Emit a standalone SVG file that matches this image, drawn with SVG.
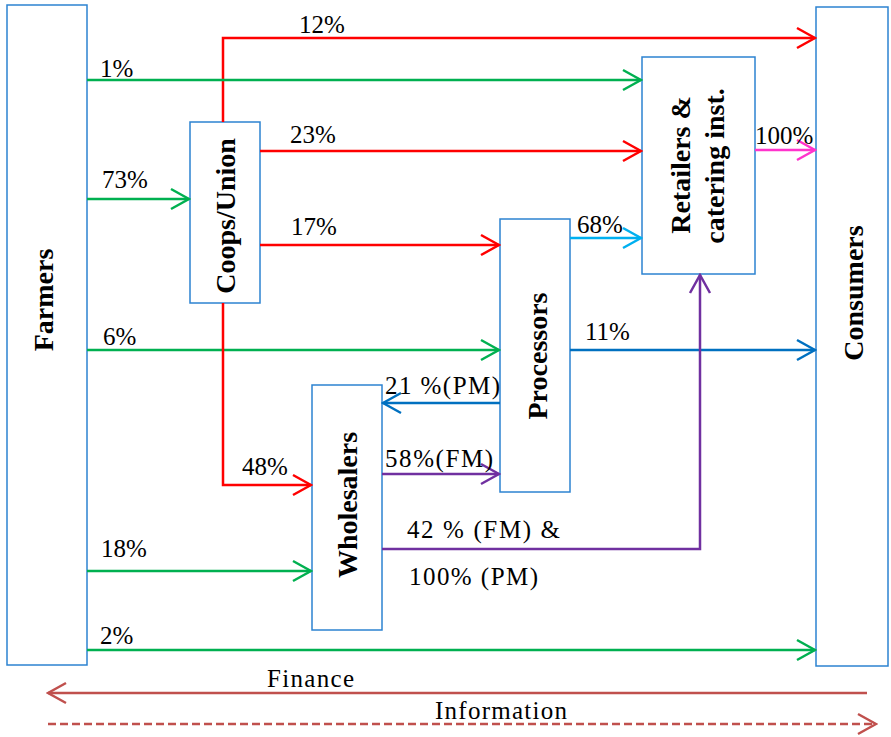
<svg xmlns="http://www.w3.org/2000/svg" width="891" height="737" viewBox="0 0 891 737">
<style>
.box{fill:#fff;stroke:#2C83D1;stroke-width:1.5}
.nl{font-family:"Liberation Serif","Times New Roman",serif;font-weight:bold;font-size:28px;text-anchor:middle;fill:#000}
.lb{font-family:"Liberation Serif","Times New Roman",serif;font-size:25px;fill:#000}
.c{fill:none;stroke-width:2.5}
.red{stroke:#FF0000}.grn{stroke:#00B050}.lbl{stroke:#00B0F0}.blu{stroke:#0070C0}.pur{stroke:#7030A0}.mag{stroke:#FF33CC}.fin{stroke:#C0504D}
</style>
<defs>
<marker id="mRed" markerUnits="userSpaceOnUse" viewBox="-21 -12 23 24" markerWidth="23" markerHeight="24" refX="0" refY="0" orient="auto"><path d="M-18,-10 L0,0 L-18,10" fill="none" stroke="#FF0000" stroke-width="2.5"/></marker>
<marker id="mGrn" markerUnits="userSpaceOnUse" viewBox="-21 -12 23 24" markerWidth="23" markerHeight="24" refX="0" refY="0" orient="auto"><path d="M-18,-10 L0,0 L-18,10" fill="none" stroke="#00B050" stroke-width="2.5"/></marker>
<marker id="mLbl" markerUnits="userSpaceOnUse" viewBox="-21 -12 23 24" markerWidth="23" markerHeight="24" refX="0" refY="0" orient="auto"><path d="M-18,-10 L0,0 L-18,10" fill="none" stroke="#00B0F0" stroke-width="2.5"/></marker>
<marker id="mBlu" markerUnits="userSpaceOnUse" viewBox="-21 -12 23 24" markerWidth="23" markerHeight="24" refX="0" refY="0" orient="auto"><path d="M-18,-10 L0,0 L-18,10" fill="none" stroke="#0070C0" stroke-width="2.5"/></marker>
<marker id="mPur" markerUnits="userSpaceOnUse" viewBox="-21 -12 23 24" markerWidth="23" markerHeight="24" refX="0" refY="0" orient="auto"><path d="M-18,-10 L0,0 L-18,10" fill="none" stroke="#7030A0" stroke-width="2.5"/></marker>
<marker id="mMag" markerUnits="userSpaceOnUse" viewBox="-21 -12 23 24" markerWidth="23" markerHeight="24" refX="0" refY="0" orient="auto"><path d="M-18,-10 L0,0 L-18,10" fill="none" stroke="#FF33CC" stroke-width="2.5"/></marker>
<marker id="mFin" markerUnits="userSpaceOnUse" viewBox="-21 -12 23 24" markerWidth="23" markerHeight="24" refX="0" refY="0" orient="auto"><path d="M-18,-10 L0,0 L-18,10" fill="none" stroke="#C0504D" stroke-width="2.5"/></marker>
</defs>
<rect width="891" height="737" fill="#fff"/>
<g id="farmers"><rect class="box" x="7" y="5" width="80" height="660"/><text class="nl" x="53" y="300" transform="rotate(-90 53 300)">Farmers</text></g>
<g id="consumers"><rect class="box" x="816" y="7" width="72" height="659"/><text class="nl" x="863" y="293" transform="rotate(-90 863 293)">Consumers</text></g>
<g id="coops"><rect class="box" x="190" y="122" width="70" height="181"/><text class="nl" x="235" y="216" transform="rotate(-90 235 216)">Coops/Union</text></g>
<g id="retailers"><rect class="box" x="642" y="57" width="113" height="217"/><text class="nl" x="690" y="165" transform="rotate(-90 690 165)">Retailers &amp;</text><text class="nl" x="724" y="166" transform="rotate(-90 724 166)">catering inst.</text></g>
<g id="processors"><rect class="box" x="500" y="219" width="70" height="273"/><text class="nl" x="547" y="356" transform="rotate(-90 547 356)">Processors</text></g>
<g id="wholesalers"><rect class="box" x="312" y="385" width="70" height="245"/><text class="nl" x="357" y="505" transform="rotate(-90 357 505)">Wholesalers</text></g>
<g id="connectors">
<path class="c red" d="M223,122 V38 H815" marker-end="url(#mRed)"/>
<path class="c grn" d="M87,80 H641" marker-end="url(#mGrn)"/>
<path class="c red" d="M260,151 H641" marker-end="url(#mRed)"/>
<path class="c grn" d="M87,199 H189" marker-end="url(#mGrn)"/>
<path class="c red" d="M260,245 H499" marker-end="url(#mRed)"/>
<path class="c lbl" d="M570,238 H641" marker-end="url(#mLbl)"/>
<path class="c mag" d="M755,150 H815" marker-end="url(#mMag)"/>
<path class="c grn" d="M87,350 H499" marker-end="url(#mGrn)"/>
<path class="c blu" d="M570,350 H815" marker-end="url(#mBlu)"/>
<path class="c blu" d="M500,403 H383" marker-end="url(#mBlu)"/>
<path class="c red" d="M223,303 V485 H311" marker-end="url(#mRed)"/>
<path class="c pur" d="M382,474 H499" marker-end="url(#mPur)"/>
<path class="c pur" d="M382,549 H700 V275" marker-end="url(#mPur)"/>
<path class="c grn" d="M87,571 H311" marker-end="url(#mGrn)"/>
<path class="c grn" d="M87,650 H815" marker-end="url(#mGrn)"/>
<path class="c fin" d="M867,693 H48" marker-end="url(#mFin)"/>
<path class="c fin" d="M48,724 H876" stroke-dasharray="8 4" marker-end="url(#mFin)"/>
<text class="lb" x="299" y="33">12%</text>
<text class="lb" x="100" y="77">1%</text>
<text class="lb" x="290" y="143">23%</text>
<text class="lb" x="102" y="188">73%</text>
<text class="lb" x="291" y="235">17%</text>
<text class="lb" x="577" y="233">68%</text>
<text class="lb" x="755" y="144">100%</text>
<text class="lb" x="103" y="345">6%</text>
<text class="lb" x="585" y="340">11%</text>
<text class="lb" x="385" y="394" textLength="115">21 %(PM)</text>
<text class="lb" x="242" y="475">48%</text>
<text class="lb" x="385" y="467" textLength="108">58%(FM)</text>
<text class="lb" x="407" y="538" textLength="153">42 % (FM) &amp;</text>
<text class="lb" x="409" y="585" textLength="129">100% (PM)</text>
<text class="lb" x="101" y="557">18%</text>
<text class="lb" x="100" y="644">2%</text>
<text class="lb" x="267" y="687" textLength="87">Finance</text>
<text class="lb" x="435" y="719" textLength="132">Information</text>
</g>
</svg>
